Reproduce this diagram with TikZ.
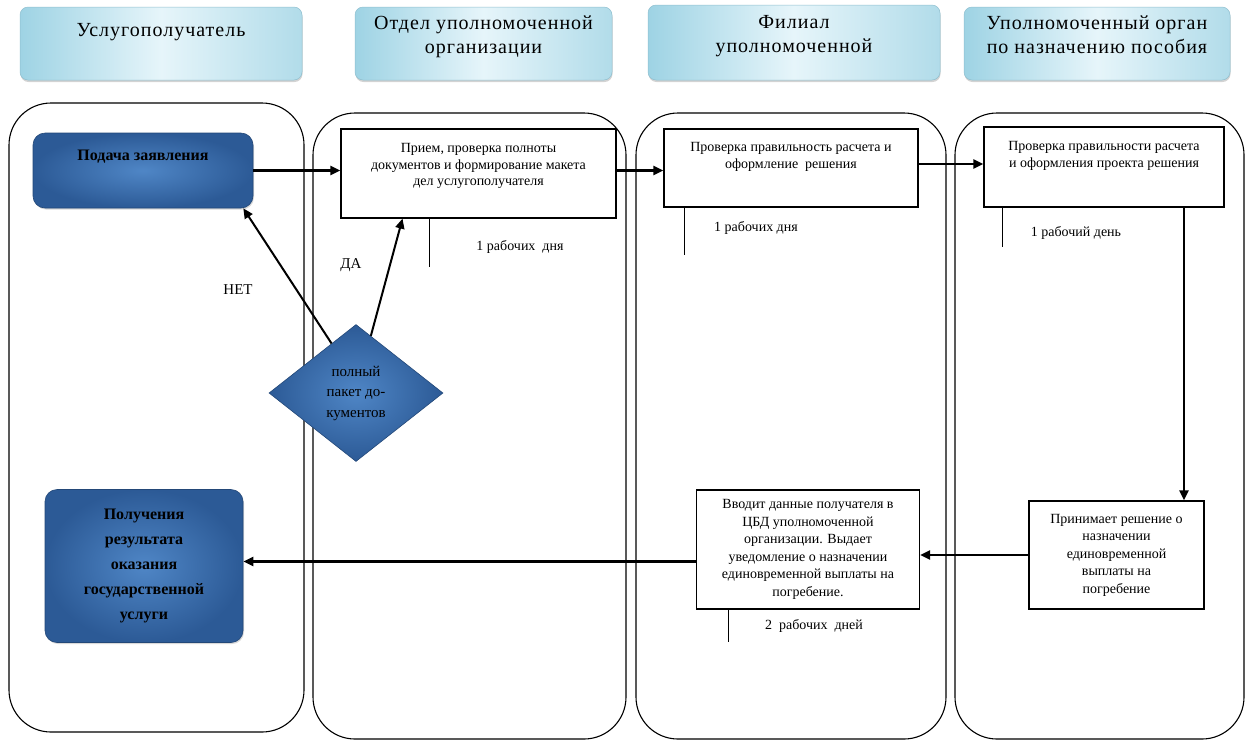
\documentclass[tikz,border=0pt]{standalone}
\usepackage{fontspec}
\setmainfont{Liberation Serif}
\newfontfamily\hdrfont[LetterSpace=5]{Liberation Serif}
\usetikzlibrary{shapes.geometric,arrows.meta,calc,shadows}
\definecolor{hdrD}{HTML}{9ED3E4}
\definecolor{hdrL}{HTML}{E6F5FA}
\definecolor{hdrE}{HTML}{8FBFCF}
\definecolor{blueD}{HTML}{2C5A96}
\definecolor{blueL}{HTML}{4F86C6}
\begin{document}
\begin{tikzpicture}[x=1pt,y=-1pt,
  lane/.style={draw=black, line width=1.1pt, rounded corners=42pt, inner sep=0pt},
  hdr/.style={draw=hdrE, line width=0.5pt, rounded corners=8pt,
    left color=hdrD, right color=hdrD!80!white, middle color=hdrL,
    font=\hdrfont\fontsize{20}{24}\selectfont, align=center, inner sep=0pt,
    drop shadow={shadow xshift=0.5pt, shadow yshift=-2pt, opacity=0.35, fill=gray}},
  bluebox/.style={draw=blueD!80!black, line width=0.6pt, rounded corners=12pt,
    inner color=blueL, outer color=blueD, align=center, inner sep=0pt,
    font=\bfseries\fontsize{16}{25}\selectfont,
    drop shadow={shadow xshift=1pt, shadow yshift=-1.5pt, opacity=0.3, fill=gray}},
  pbox/.style={draw=black, line width=1.2pt, fill=white, align=center, inner sep=0pt,
    font=\fontsize{14}{16.5}\selectfont},
  pboxb/.style={pbox, font=\fontsize{14}{17.5}\selectfont},
  decision/.style={diamond, draw=blueD!80!black, line width=0.6pt, inner color=blueL, outer color=blueD,
    align=center, inner sep=0pt, font=\fontsize{15}{20.5}\selectfont},
  arr/.style={-{Triangle[length=10pt,width=9pt]}, line width=2.4pt},
  arrb/.style={-{Triangle[length=10pt,width=9pt]}, line width=2pt},
  tline/.style={draw=black, line width=1pt},
  tlabel/.style={font=\fontsize{14}{16}\selectfont, inner sep=0pt},
  lbl/.style={font=\fontsize{15}{18}\selectfont, inner sep=0pt}
]
\useasboundingbox (0,0) rectangle (1248,740);

% swimlanes
\node[lane, minimum width=295pt, minimum height=629pt] (l1) at (156.5,417.5) {};
\node[lane, minimum width=313pt, minimum height=626pt] (l2) at (469.5,426) {};
\node[lane, minimum width=310pt, minimum height=626pt] (l3) at (791,426) {};
\node[lane, minimum width=289pt, minimum height=626pt] (l4) at (1099.5,426) {};

% headers
\node[hdr, minimum width=282pt, minimum height=73pt, text depth=27pt] (h1) at (161,43.5) {Услугополучатель};
\node[hdr, minimum width=257pt, minimum height=73pt, text depth=18pt] (h2) at (483.5,43.5) {Отдел уполномоченной\\организации};
\node[hdr, minimum width=292pt, minimum height=75pt, text depth=18pt] (h3) at (794,42.5) {Филиал\\уполномоченной};
\node[hdr, minimum width=266pt, minimum height=73pt, text depth=18pt] (h4) at (1097,43.5) {Уполномоченный орган\\по назначению пособия};

% process nodes
\node[bluebox, minimum width=220pt, minimum height=75pt, text depth=31pt] (podacha) at (143,170.5) {Подача заявления};
\node[bluebox, minimum width=198pt, minimum height=153pt] (poluch) at (144,566) {Получения\\результата\\оказания\\государственной\\услуги};
\node[pbox, minimum width=275pt, minimum height=89pt, text depth=18pt] (priem) at (478.5,173.5) {Прием, проверка полноты\\документов и формирование макета\\дел услугополучателя};
\node[pbox, minimum width=254pt, minimum height=78pt, text depth=25pt] (prov) at (791,168) {Проверка правильность расчета и\\оформление~~решения};
\node[pbox, minimum width=240pt, minimum height=80pt, text depth=25pt] (prov4) at (1104,167) {Проверка правильности расчета\\и оформления проекта решения};
\node[pboxb, minimum width=175pt, minimum height=108pt] (prin) at (1116.5,555) {Принимает решение о\\назначении\\единовременной\\выплаты на\\погребение};
\node[pboxb, minimum width=223pt, minimum height=119pt] (vvod) at (808,549.5) {Вводит данные получателя в\\ЦБД уполномоченной\\организации. Выдает\\уведомление о назначении\\единовременной выплаты на\\погребение.};
\node[decision, minimum width=174pt, minimum height=137pt] (dia) at (356,393) {полный\\пакет до-\\кументов};

% durations
\coordinate (t1) at (429,267);
\draw[tline] (priem.south -| t1) -- (t1);
\node[tlabel] (d1) at (520,247) {1 рабочих~~дня};
\coordinate (t2) at (684,255);
\draw[tline] (prov.south -| t2) -- (t2);
\node[tlabel] (d2) at (756,228) {1 рабочих дня};
\coordinate (t3) at (1002,247);
\draw[tline] (prov4.south -| t3) -- (t3);
\node[tlabel] (d3) at (1076,233) {1 рабочий день};
\coordinate (t4) at (728,642);
\draw[tline] (vvod.south -| t4) -- (t4);
\node[tlabel] (d4) at (814,626) {2~~рабочих~~дней};

% labels
\node[lbl] (da) at (351,265) {ДА};
\node[lbl] (net) at (238,290) {НЕТ};

% connectors
\draw[arr] (podacha.east) -- (priem.west |- podacha.east);
\draw[arr] (priem.east |- podacha.east) -- (prov.west |- podacha.east);
\coordinate (a3) at ([yshift=4pt]prov.east);
\draw[arr] (a3) -- (prov4.west |- a3);
\coordinate (a4) at ([xshift=80pt]prov4.south);
\draw[arr] (a4) -- (a4 |- prin.north);
\draw[arr] (prin.west) -- (vvod.east |- prin.west);
\coordinate (a6) at ([yshift=-12pt]vvod.west);
\draw[arr] (a6) -- (poluch.east |- a6);
\draw[arrb] ($(dia.west)!0.72!(dia.north)$) -- ([xshift=-10pt]podacha.south east);
\draw[arrb] ($(dia.north)!0.17!(dia.east)$) -- ([xshift=-76pt]priem.south);
\end{tikzpicture}
\end{document}
